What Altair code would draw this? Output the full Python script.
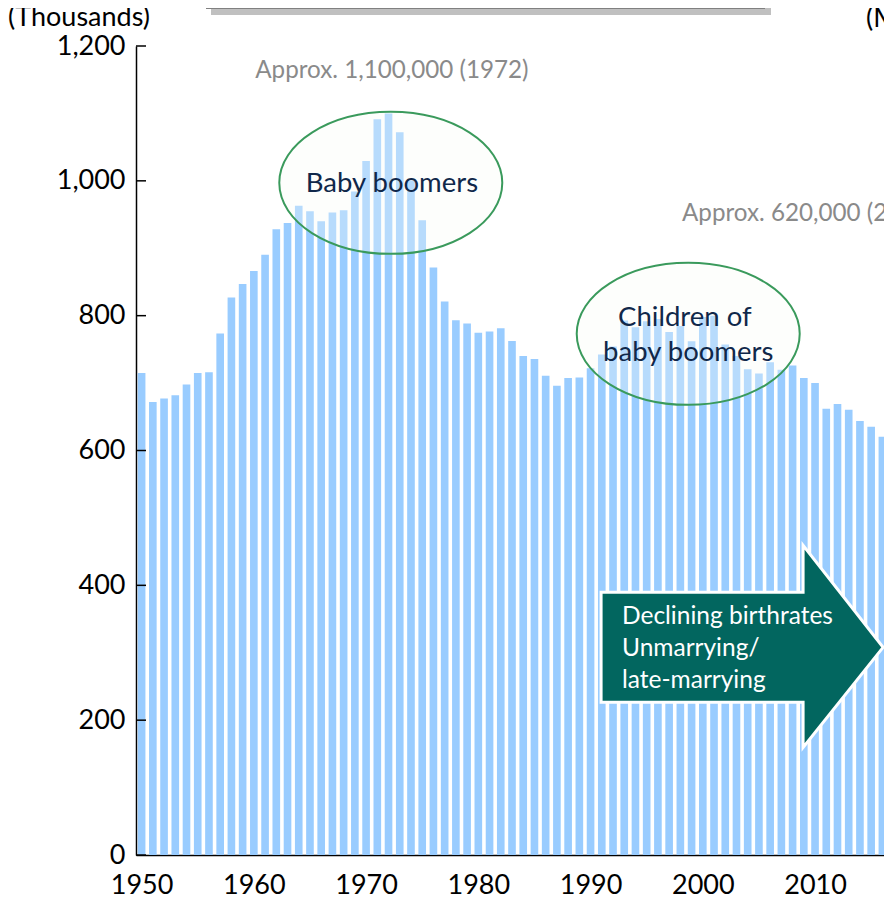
import altair as alt
import pandas as pd

# ---------------- data (thousands) ----------------
years = list(range(1950, 2017))
marriages = [715.1, 671.9, 677.0, 682.1, 697.8, 714.9, 715.9, 773.4, 826.9, 847.1,
             866.1, 890.2, 928.3, 937.5, 963.1, 954.9, 940.1, 953.1, 956.3, 984.1,
             1029.4, 1091.2, 1100.0, 1071.9, 1000.5, 941.6, 871.5, 821.0, 793.3, 788.5,
             774.7, 776.5, 781.3, 762.6, 740.0, 735.9, 711.0, 696.2, 707.7, 708.3,
             722.1, 742.3, 754.4, 792.7, 782.7, 791.9, 795.1, 775.7, 784.6, 762.0,
             798.1, 800.0, 757.3, 740.2, 720.4, 714.3, 731.0, 719.8, 726.1, 707.7,
             700.2, 661.9, 668.9, 660.6, 643.7, 635.2, 620.5]
y_ticks = [0, 200, 400, 600, 800, 1000, 1200]
x_ticks = [1950, 1960, 1970, 1980, 1990, 2000, 2010]

ellipse_year = [1972.2, 1998.7]
ellipse_value = [997, 773]

label_text = ["Baby boomers", "Children of", "baby boomers"]
label_year = [1972.3, 1998.4, 1998.7]
label_value = [995, 796, 745]

peak_text = ["Approx. 1,100,000 (1972)"]
peak_year = [1972.3]
peak_value = [1163]

low_text = ["Approx. 620,000 (2016)"]
low_year = [1998.15]
low_value = [951]

arrow_year = [2003.5]
arrow_value = [308]
arrow_text = ["Declining birthrates", "Unmarrying/", "late-marrying"]
arrow_text_year = [1992.8, 1992.8, 1992.8]
arrow_text_value = [353, 306, 258]

FONT = "Lato"

bars_df = pd.DataFrame({"year": years, "value": marriages})
bars_df["x0"] = bars_df["year"] - 0.34
bars_df["x1"] = bars_df["year"] + 0.34
bars_df["base"] = 0

xscale = alt.Scale(domain=[1949.5, 2016.5], nice=False, zero=False)
yscale = alt.Scale(domain=[0, 1200], nice=False)

bars = alt.Chart(bars_df).mark_bar(color="#99CCFF").encode(
    x=alt.X("x0:Q", scale=xscale, title=None,
            axis=alt.Axis(values=x_ticks, format="d", labelPadding=17,
                          labelBaseline="top", labelFlush=False, labelOverlap=False)),
    x2="x1:Q",
    y=alt.Y("value:Q", scale=yscale, title=None,
            axis=alt.Axis(values=y_ticks, format=",d", labelPadding=11,
                          labelBaseline="middle")),
    y2="base:Q",
)


def px(field):
    return alt.X(field, title=None)


def py(field):
    return alt.Y(field, title=None)


ticks = alt.Chart(pd.DataFrame({"v": y_ticks})).mark_rule(color="black", strokeWidth=1.5).encode(
    x=alt.value(0), x2=alt.value(10), y=py("v:Q")
)

rx, ry = 111.5, 71
k = 0.5523
ell = (f"M {-rx} 0 C {-rx} {-k*ry} {-k*rx} {-ry} 0 {-ry} "
       f"C {k*rx} {-ry} {rx} {-k*ry} {rx} 0 "
       f"C {rx} {k*ry} {k*rx} {ry} 0 {ry} "
       f"C {-k*rx} {ry} {-rx} {k*ry} {-rx} 0 Z")

ellipses = alt.Chart(pd.DataFrame({"year": ellipse_year, "value": ellipse_value})).mark_point(
    shape=ell, size=4, filled=True, fill="#f8fcf6", fillOpacity=0.32,
    stroke="#3a9a5c", strokeWidth=2, strokeOpacity=1, opacity=1
).encode(x=px("year:Q"), y=py("value:Q"))

labels = alt.Chart(pd.DataFrame({"year": label_year, "value": label_value, "t": label_text})).mark_text(
    font=FONT, fontSize=27.5, color="#10284a", align="center", baseline="middle"
).encode(x=px("year:Q"), y=py("value:Q"), text="t:N")

peak = alt.Chart(pd.DataFrame({"year": peak_year, "value": peak_value, "t": peak_text})).mark_text(
    font=FONT, fontSize=24.2, color="#8a8a8a", align="center", baseline="middle"
).encode(x=px("year:Q"), y=py("value:Q"), text="t:N")

low = alt.Chart(pd.DataFrame({"year": low_year, "value": low_value, "t": low_text})).mark_text(
    font=FONT, fontSize=24.2, color="#8a8a8a", align="left", baseline="middle"
).encode(x=px("year:Q"), y=py("value:Q"), text="t:N")

arrow_path = "M -141 -55 L 61 -55 L 61 -102 L 141 0 L 61 100 L 61 55 L -141 55 Z"
arrow = alt.Chart(pd.DataFrame({"year": arrow_year, "value": arrow_value})).mark_point(
    shape=arrow_path, size=4, filled=True, fill="#02665f", stroke="white",
    strokeWidth=3, opacity=1, fillOpacity=1, strokeOpacity=1
).encode(x=px("year:Q"), y=py("value:Q"))

arrow_labels = alt.Chart(pd.DataFrame({"year": arrow_text_year, "value": arrow_text_value,
                                       "t": arrow_text})).mark_text(
    font=FONT, fontSize=24.5, color="white", align="left", baseline="middle"
).encode(x=px("year:Q"), y=py("value:Q"), text="t:N")

one = pd.DataFrame({"a": [0]})
shadow = alt.Chart(one).mark_rect(color="#c0c0c0").encode(
    x=alt.value(75), x2=alt.value(635), y=alt.value(-41), y2=alt.value(-31))
topbar = alt.Chart(one).mark_rect(color="#808080").encode(
    x=alt.value(70), x2=alt.value(629), y=alt.value(-50), y2=alt.value(-37))
unit_left = alt.Chart(one).mark_text(font=FONT, fontSize=27, color="black",
                                     align="right", baseline="middle").encode(
    x=alt.value(14), y=alt.value(-28), text=alt.value("(Thousands)"))
unit_right = alt.Chart(one).mark_text(font=FONT, fontSize=27, color="black",
                                      align="left", baseline="middle").encode(
    x=alt.value(730), y=alt.value(-27), text=alt.value("(M"))

chart = alt.layer(
    bars, ticks, ellipses, labels, peak, low, arrow, arrow_labels,
    shadow, topbar, unit_left, unit_right
).properties(
    width=752, height=809,
    autosize=alt.AutoSizeParams(type="none"),
    padding={"left": 128, "top": 38, "right": -4, "bottom": 43},
    background="white",
).configure_view(stroke=None).configure_axis(
    domainColor="black", domainWidth=1.5, ticks=False, tickSize=0, grid=False,
    labelFont=FONT, labelFontSize=27, labelColor="black",
)

chart.save("out.html", embed_options={"renderer": "svg", "actions": False})
